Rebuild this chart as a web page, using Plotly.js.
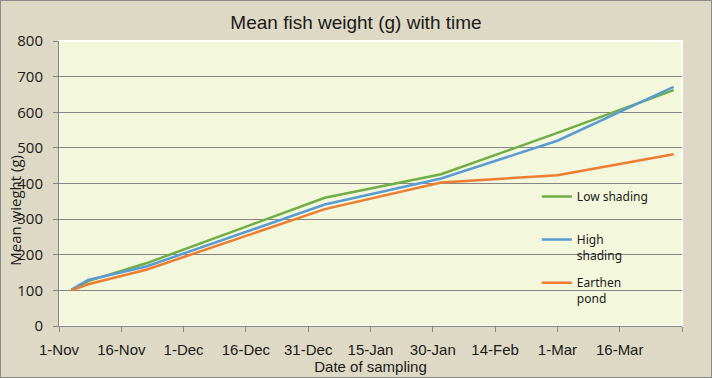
<!DOCTYPE html>
<html>
<head>
<meta charset="utf-8">
<script src="https://cdn.plot.ly/plotly-3.0.1.min.js"></script>
<style>
  html, body { margin: 0; padding: 0; background: #ddd9c4; }
  #chart { width: 710px; height: 376px; border: 1px solid #8a8a8a; }
</style>
</head>
<body>
<div id="chart"></div>
<script>
// Sampling dates and mean weights (g)
const samplingDates = ['2012-11-04', '2012-11-08', '2012-11-22', '2013-01-04', '2013-02-01', '2013-03-01', '2013-03-29'];
const lowShading    = [101, 126, 176, 360, 426, 542, 662];
const highShading   = [102, 129, 167, 341, 414, 520, 671];
const earthenPond   = [100, 117, 158, 328, 403, 423, 482];

const seriesNames = ['Low shading<br> ', 'High<br>shading', 'Earthen<br>pond'];
const seriesColors = ['#70ad47', '#5b9bd5', '#ed7d31'];

// X-axis ticks
const tickDates  = ['2012-11-01', '2012-11-16', '2012-12-01', '2012-12-16', '2012-12-31', '2013-01-15', '2013-01-30', '2013-02-14', '2013-03-01', '2013-03-16', '2013-03-31'];
const tickLabels = ['1-Nov', '16-Nov', '1-Dec', '16-Dec', '31-Dec', '15-Jan', '30-Jan', '14-Feb', '1-Mar', '16-Mar', ''];
const yTicks = [0, 100, 200, 300, 400, 500, 600, 700, 800];

const seriesValues = [lowShading, highShading, earthenPond];
const traces = seriesValues.map((vals, i) => ({
  type: 'scatter',
  mode: 'lines',
  x: samplingDates,
  y: vals,
  name: seriesNames[i],
  legendgroup: 'g' + i,
  line: { color: seriesColors[i], width: 2.5 }
}));

const gridCol = '#868686';
const condensed = 'Liberation Sans Narrow, Arial Narrow, sans-serif';
const layout = {
  width: 710, height: 376,
  margin: { l: 58, r: 29, t: 40, b: 51 },
  paper_bgcolor: '#ddd9c4',
  plot_bgcolor: '#f3f7dc',
  title: {
    text: 'Mean fish weight (g) with time',
    font: { family: condensed, size: 19, color: '#1a1a1a' },
    x: 0.5, xref: 'container', xanchor: 'center',
    y: 0.942, yref: 'container', yanchor: 'middle'
  },
  xaxis: {
    type: 'date',
    range: ['2012-11-01', '2013-03-31'],
    tickmode: 'array', tickvals: tickDates, ticktext: tickLabels,
    showgrid: false, zeroline: false,
    showline: true, linecolor: gridCol, linewidth: 1,
    ticks: 'outside', ticklen: 5, tickcolor: gridCol,
    ticklabelstandoff: 5,
    tickfont: { family: condensed, size: 15, color: '#1a1a1a' },
    title: { text: 'Date of sampling', font: { family: condensed, size: 15, color: '#1a1a1a' }, standoff: 4 },
    automargin: false, fixedrange: true
  },
  yaxis: {
    range: [0, 800],
    tickmode: 'array', tickvals: yTicks,
    showgrid: true, gridcolor: gridCol, gridwidth: 1,
    zeroline: false,
    showline: true, linecolor: gridCol, linewidth: 1,
    ticks: 'outside', ticklen: 5, tickcolor: gridCol,
    ticklabelstandoff: 7,
    tickfont: { family: 'Open Sans, Noto Sans, sans-serif', size: 15, color: '#1a1a1a' },
    automargin: false, fixedrange: true
  },
  showlegend: true,
  legend: {
    x: 0.767, xanchor: 'left', y: 0.505, yanchor: 'top',
    bgcolor: 'rgba(0,0,0,0)', borderwidth: 0,
    font: { family: 'Noto Sans, DejaVu Sans, sans-serif', size: 12, color: '#1a1a1a' },
    valign: 'top', tracegroupgap: 9, itemwidth: 30
  },
  annotations: [{
    text: 'Mean wieght (g)', textangle: -90,
    xref: 'paper', yref: 'paper', x: -0.071, y: 0.407,
    xanchor: 'center', yanchor: 'middle', showarrow: false,
    font: { family: 'Open Sans, Noto Sans, sans-serif', size: 15, color: '#1a1a1a' }
  }],
  shapes: [{
    type: 'rect', xref: 'paper', yref: 'paper', x0: 0, x1: 1, y0: 0, y1: 1,
    line: { color: '#ffffff', width: 2 }, layer: 'below'
  }],
  hovermode: false
};

Plotly.newPlot('chart', traces, layout, { displayModeBar: false, staticPlot: true });
</script>
</body>
</html>
